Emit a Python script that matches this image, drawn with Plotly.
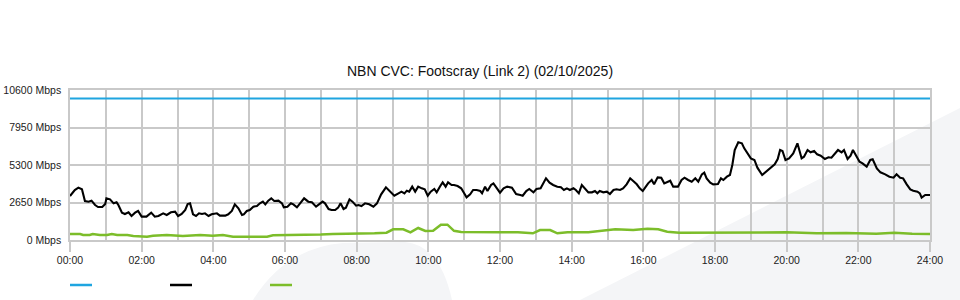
import plotly.graph_objects as go

# ---------------- data ----------------
tick_labels = ["00:00", "02:00", "04:00", "06:00", "08:00", "10:00", "12:00",
               "14:00", "16:00", "18:00", "20:00", "22:00", "24:00"]
y_tick_values = [0, 2650, 5300, 7950, 10600]

capacity_min = [0, 1440]
capacity_mbps = [10000, 10000]

traffic_min = [
    0, 8, 14, 20, 25, 31, 36, 42, 47, 54, 59, 61, 67, 73, 78, 81, 87, 92, 98, 103,
    109, 114, 120, 128, 136, 142, 148, 156, 162, 169, 176, 181, 187, 193, 197, 201,
    206, 211, 216, 221, 226, 232, 237, 243, 246, 251, 260, 265, 271, 276, 282, 288,
    291, 296, 301, 307, 313, 318, 323, 327, 332, 337, 342, 349, 355, 358, 364, 370,
    374, 380, 385, 392, 399, 405, 412, 419, 423, 427, 433, 438, 444, 449, 453, 458,
    462, 468, 473, 479, 483, 488, 494, 501, 508, 514, 521, 529, 536, 543, 550, 555,
    560, 564, 568, 573, 578, 583, 589, 594, 599, 604, 610, 614, 620, 624, 629, 633,
    639, 643, 649, 655, 660, 664, 670, 675, 681, 687, 690, 695, 699, 705, 709, 715,
    720, 726, 732, 740, 747, 754, 758, 764, 769, 776, 781, 788, 793, 797, 803, 809,
    816, 822, 827, 832, 837, 843, 847, 852, 857, 862, 868, 874, 879, 883, 887, 893,
    899, 904, 910, 915, 921, 926, 932, 938, 943, 949, 954, 959, 963, 968, 974, 978,
    984, 990, 995, 1001, 1005, 1010, 1018, 1024, 1029, 1035, 1041, 1047, 1052, 1058,
    1062, 1066, 1072, 1077, 1085, 1090, 1094, 1100, 1105, 1109, 1113, 1119, 1125,
    1129, 1135, 1140, 1146, 1151, 1159, 1167, 1174, 1180, 1185, 1189, 1193, 1198,
    1204, 1211, 1218, 1225, 1229, 1235, 1240, 1246, 1251, 1257, 1264, 1270, 1275,
    1281, 1286, 1292, 1296, 1302, 1307, 1311, 1316, 1322, 1327, 1334, 1340, 1344,
    1351, 1357, 1365, 1372, 1379, 1384, 1390, 1395, 1401, 1407, 1412, 1419, 1423,
    1426, 1432, 1440]
traffic_mbps = [
    3109, 3533, 3698, 3580, 2756, 2709, 2780, 2473, 2332, 2332, 2544, 2945, 2874,
    2591, 2662, 2473, 1932, 1837, 1955, 1696, 1932, 2049, 1649, 1649, 1932, 1649,
    1696, 1885, 1767, 1955, 2002, 1696, 1837, 2120, 2544, 2591, 1814, 1696, 1885,
    1837, 1885, 1696, 1814, 1837, 1885, 1720, 1720, 1814, 2049, 2521, 2238, 1767,
    1814, 2049, 2120, 2356, 2403, 2591, 2709, 2521, 2780, 2945, 2756, 2780, 2591,
    2309, 2356, 2591, 2521, 2309, 2591, 2945, 2709, 2662, 2356, 2591, 2709, 2591,
    2190, 2120, 2120, 2285, 2591, 2190, 2285, 2874, 2709, 2426, 2473, 2403, 2591,
    2521, 2356, 2591, 3227, 3722, 3416, 3132, 3298, 3416, 3298, 3486, 3416, 3769,
    3416, 3769, 3651, 3580, 3132, 3416, 3604, 3369, 3816, 4075, 3769, 4075, 3887,
    3887, 3816, 3651, 3298, 3015, 3227, 3533, 3533, 3462, 3298, 3769, 3462, 3887,
    4004, 3651, 3345, 3651, 3769, 3698, 3251, 3180, 3132, 3462, 3604, 3369, 3604,
    3651, 4004, 4357, 4051, 3887, 3769, 3722, 3533, 3651, 3533, 3651, 3533, 3298,
    3887, 3651, 3369, 3369, 3462, 3298, 3462, 3369, 3416, 3251, 3533, 3580, 3533,
    3651, 3934, 4357, 4169, 3934, 3651, 3462, 3700, 4004, 4240, 3934, 4428, 4404,
    4004, 4122, 4192, 3769, 3769, 4240, 4404, 4240, 4122, 4357, 4122, 4640, 4758,
    4357, 4051, 3934, 3957, 4357, 4240, 4475, 4593, 5300, 6360, 6902, 6832, 6478,
    6053, 5771, 5654, 5111, 4593, 4876, 5135, 5347, 5724, 6360, 6289, 5654, 5771,
    6124, 6832, 5771, 5889, 6360, 6195, 6289, 6053, 5960, 5724, 5842, 5818, 6124,
    6360, 6195, 6360, 5724, 5960, 6360, 5960, 5536, 5418, 5182, 5654, 5701, 5064,
    4781, 4640, 4475, 4404, 4640, 4404, 4357, 3934, 3580, 3486, 3416, 3298, 2992,
    3180, 3180]

green_min = [
    0, 8, 17, 22, 33, 38, 50, 62, 70, 79, 96, 106, 129, 139, 162, 189, 218, 239,
    256, 273, 285, 300, 330, 340, 400, 420, 440, 470, 490, 510, 530, 541, 558, 570,
    583, 595, 608, 621, 632, 643, 655, 680, 700, 720, 750, 775, 787, 804, 816, 833,
    868, 887, 913, 943, 967, 985, 1000, 1020, 1080, 1100, 1150, 1200, 1250, 1300,
    1350, 1380, 1410, 1440]
green_mbps = [
    424, 424, 424, 353, 353, 424, 353, 353, 424, 353, 353, 283, 236, 306, 353, 283,
    353, 306, 353, 236, 236, 236, 236, 330, 353, 380, 424, 424, 471, 471, 518, 754,
    754, 542, 848, 636, 660, 1083, 1083, 650, 565, 542, 565, 542, 542, 471, 707,
    707, 471, 542, 542, 636, 754, 707, 801, 754, 589, 518, 518, 542, 518, 542, 471,
    494, 447, 518, 447, 424]

# ---------------- styling ----------------
BLUE = "#1fa5e0"
BLACK = "#000000"
GREEN = "#7cbd2a"
GRID = "#c9c9c9"
FONT = "Liberation Sans, Arial, sans-serif"

L, R, T, B = 70, 30, 90, 60
W, H = 960, 300
PW, PH = W - L - R, H - T - B


def px(x):
    return (x - L) / PW


def py(y):
    return (H - B - y) / PH


fig = go.Figure()
fig.add_trace(go.Scatter(x=capacity_min, y=capacity_mbps, mode="lines",
                         line=dict(color=BLUE, width=2.2), showlegend=False,
                         hoverinfo="skip"))
fig.add_trace(go.Scatter(x=green_min, y=green_mbps, mode="lines",
                         line=dict(color=GREEN, width=2.5), showlegend=False,
                         hoverinfo="skip"))
fig.add_trace(go.Scatter(x=traffic_min, y=traffic_mbps, mode="lines",
                         line=dict(color=BLACK, width=2.1), showlegend=False,
                         hoverinfo="skip"))

shapes = []
# faint watermark
wm = "#f4f5f7"
shapes.append(dict(type="path", xref="paper", yref="paper", layer="below",
                   path=f"M {px(580)},{py(300)} L {px(960)},{py(108)} L {px(960)},{py(300)} Z",
                   fillcolor=wm, line=dict(width=0)))
shapes.append(dict(type="path", xref="paper", yref="paper", layer="below",
                   path=(f"M {px(253)},{py(300)} Q {px(285)},{py(248)} {px(343)},{py(243)} "
                         f"L {px(405)},{py(242)} Q {px(440)},{py(245)} {px(452)},{py(300)} Z"),
                   fillcolor=wm, line=dict(width=0)))
# legend swatches
for x0, c in [(70, BLUE), (170, BLACK), (270, GREEN)]:
    shapes.append(dict(type="line", xref="paper", yref="paper",
                       x0=px(x0), x1=px(x0 + 22), y0=py(285), y1=py(285),
                       line=dict(color=c, width=2.5)))

fig.update_layout(
    width=W, height=H,
    margin=dict(l=L, r=R, t=T, b=B, autoexpand=False),
    paper_bgcolor="white",
    plot_bgcolor="rgba(0,0,0,0)",
    font=dict(family=FONT, color="#222222", size=10.5),
    title=dict(text="NBN CVC: Footscray (Link 2) (02/10/2025)",
               x=0.5, xanchor="center", xref="container",
               y=1 - 71 / H, yanchor="middle", yref="container",
               font=dict(family=FONT, size=14, color="#111111")),
    showlegend=False,
    shapes=shapes,
    xaxis=dict(range=[0, 1440], tickvals=list(range(0, 1441, 120)),
               ticktext=tick_labels, showgrid=True, gridcolor=GRID, gridwidth=1.5,
               minor=dict(dtick=60, tick0=0, showgrid=True, gridcolor=GRID,
                          gridwidth=1.5, ticks=""),
               ticks="outside", ticklen=10, tickwidth=1.5, tickcolor=GRID,
               showline=True, linecolor=GRID, linewidth=1.5, mirror=True,
               zeroline=False, automargin=False, tickfont=dict(size=10.5)),
    yaxis=dict(range=[0, 10600], tickvals=y_tick_values,
               ticktext=[f"{v} Mbps" for v in y_tick_values],
               showgrid=True, gridcolor=GRID, gridwidth=2,
               showline=True, linecolor=GRID, linewidth=1.5, mirror=True,
               zeroline=False, ticks="", ticklabelstandoff=5,
               automargin=False, tickfont=dict(size=10.5)),
)

fig.write_html("out.html")
